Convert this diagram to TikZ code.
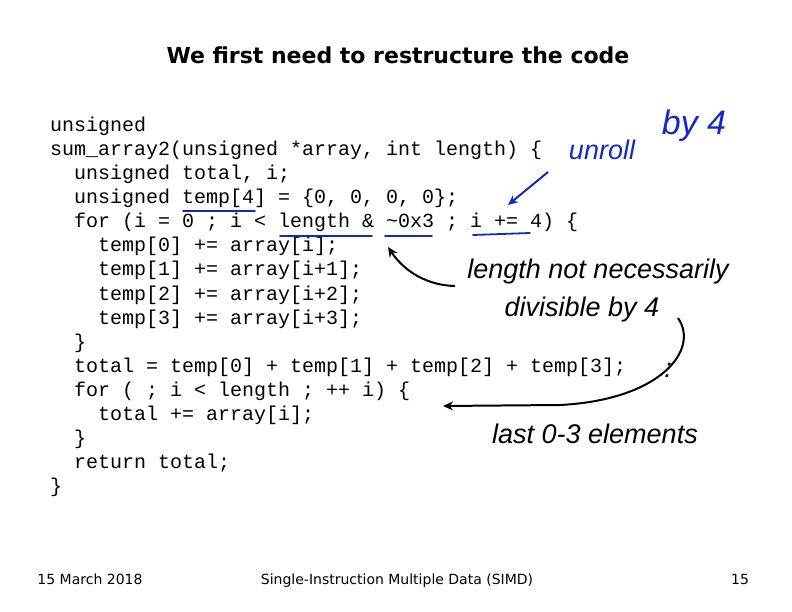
\documentclass[tikz,border=0pt]{standalone}
\usepackage{fontspec}
\setmainfont{DejaVu Sans}
\setmonofont{Liberation Mono}
\newfontfamily\handf{Liberation Sans}
\usetikzlibrary{arrows.meta}
\definecolor{ink}{RGB}{20,40,200}
\tikzset{code/.style={anchor=base west,font=\ttfamily\fontsize{20}{20}\selectfont,inner sep=0},
 foot/.style={anchor=base,font=\fontsize{14}{14}\selectfont,inner sep=0},
 hand/.style={font=\handf\itshape\fontsize{27}{27}\selectfont,inner sep=0},
 uline/.style={line width=1.8pt,line cap=round},
 harrow/.style={line width=2pt,-{Stealth[length=10pt,width=9pt]}}}
\begin{document}
\begin{tikzpicture}[x=1pt,y=-1pt]
\useasboundingbox (0,0) rectangle (792,612);
\node[anchor=base,font=\bfseries\fontsize{22}{22}\selectfont,inner sep=0] (title) at (398,64) {We first need to restructure the code};
\node[code] (l1) at (50,132) {unsigned};
\node[code] (l2) at (50,156) {sum\_array2(unsigned *array, int length) \{};
\node[code] (l3) at (50,180) {\ \ unsigned total, i;};
\node[code] (l4) at (50,204) {\ \ unsigned temp[4] = \{0, 0, 0, 0\};};
\node[code] (l5) at (50,228) {\ \ for (i = 0 ; i < length \& \textasciitilde0x3 ; i += 4) \{};
\node[code] (l6) at (50,252) {\ \ \ \ temp[0] += array[i];};
\node[code] (l7) at (50,276) {\ \ \ \ temp[1] += array[i+1];};
\node[code] (l8) at (50,300) {\ \ \ \ temp[2] += array[i+2];};
\node[code] (l9) at (50,324) {\ \ \ \ temp[3] += array[i+3];};
\node[code] (l10) at (50,348) {\ \ \}};
\node[code] (l11) at (50,372) {\ \ total = temp[0] + temp[1] + temp[2] + temp[3];};
\node[code] (l12) at (50,396) {\ \ for ( ; i < length ; ++ i) \{};
\node[code] (l13) at (50,420) {\ \ \ \ total += array[i];};
\node[code] (l14) at (50,444) {\ \ \}};
\node[code] (l15) at (50,468) {\ \ return total;};
\node[code] (l16) at (50,492) {\}};
\node[foot] (f1) at (90,584) {15 March 2018};
\node[foot] (f2) at (397,584) {Single-Instruction Multiple Data (SIMD)};
\node[foot] (f3) at (740,584) {15};
% handwriting
\node[hand,text=ink] (h1) at (602,150) {unroll};
\node[hand,text=ink,font=\handf\itshape\fontsize{34}{34}\selectfont] (h2) at (694,126) {by 4};
\node[hand] (h3) at (598,272) {length not necessarily};
\node[hand] (h4) at (582,310) {divisible by 4};
\node[hand] (h5) at (595,434) {last 0-3 elements};
\node[hand] (h6) at (668,370) {:};
\coordinate (u1a) at (183,211); \coordinate (u1b) at (255,211);
\coordinate (u2a) at (280,236); \coordinate (u2b) at (372,236);
\coordinate (u3a) at (385,236); \coordinate (u3b) at (432,236);
\coordinate (u4a) at (473,235); \coordinate (u4b) at (530,233);
\draw[uline,ink] (u1a) -- (u1b);
\draw[uline,ink] (u2a) -- (u2b);
\draw[uline,ink] (u3a) -- (u3b);
\draw[uline,ink] (u4a) -- (u4b);
\coordinate (a1) at (548,172); \coordinate (a1e) at (508,205);
\draw[harrow,ink] (a1) -- (a1e);
\coordinate (b1) at (455,286); \coordinate (b1e) at (388,247);
\draw[harrow] (b1) .. controls (420,285) and (400,265) .. (b1e);
\coordinate (c1) at (678,318); \coordinate (c1e) at (443,406);
\draw[harrow] (c1) .. controls (700,350) and (660,400) .. (560,405) -- (c1e);
\end{tikzpicture}
\end{document}
